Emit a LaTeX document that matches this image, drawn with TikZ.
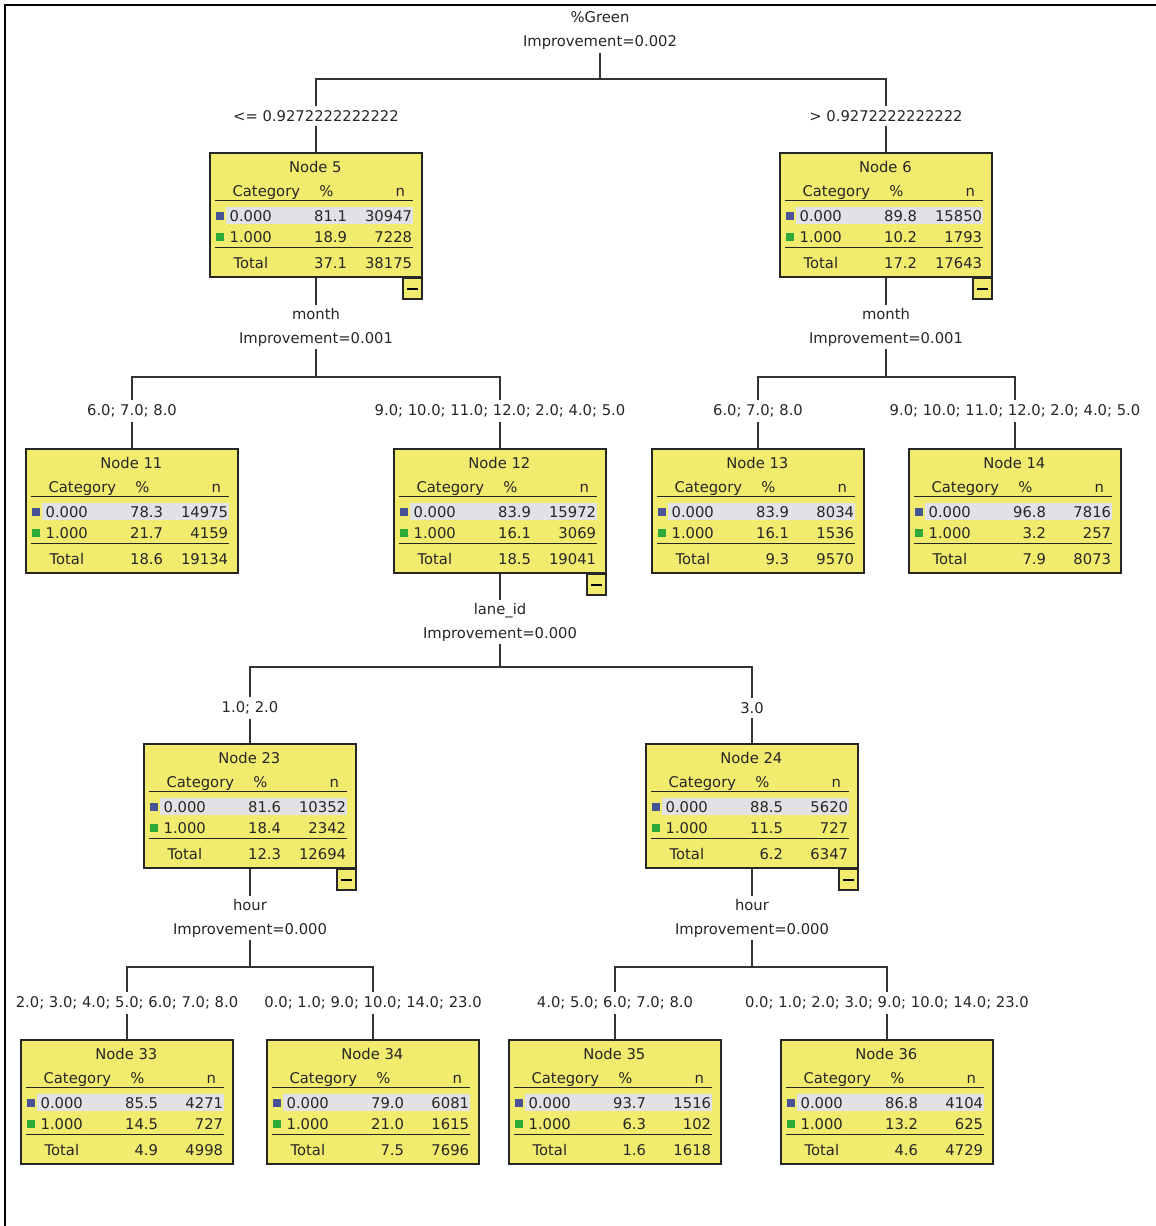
\documentclass[tikz,border=0pt]{standalone}
\usepackage{fontspec}
\setmainfont{DejaVu Sans}
\usepackage{xcolor}
\usepackage{tikz}

\definecolor{boxyellow}{RGB}{242,236,110}
\definecolor{rowgrey}{RGB}{226,226,230}
\definecolor{catblue}{RGB}{72,82,150}
\definecolor{catgreen}{RGB}{46,170,56}

\tikzset{
  nodebox/.style={draw=black!85, line width=0.9pt, fill=boxyellow, minimum width=5.3cm, minimum height=3.1cm, inner sep=0pt},
  foldbox/.style={draw=black!85, line width=0.9pt, fill=boxyellow, minimum width=0.475cm, minimum height=0.52cm, inner sep=0pt},
  cell/.style={inner sep=0pt},
  rowrule/.style={draw=black!85, line width=0.9pt},
  splitlbl/.style={align=center, inner sep=2pt},
  branchlbl/.style={inner sep=3pt},
  link/.style={draw=black!80, line width=0.9pt},
  frame/.style={draw=black, line width=1.5pt}
}

% one tree node: name, position, number, then % and n for 0.000, 1.000, Total
\newcommand{\statbox}[9]{%
  \node[nodebox] (#1) at (#2) {};
  \begin{scope}[shift={(#1.north west)}]
    \fill[rowgrey] (17,55) rectangle (204,72);
    \fill[catblue] (7,60) rectangle (15,68);
    \fill[catgreen] (7,81) rectangle (15,89);
    \draw[rowrule] (6,48) -- (204,48);
    \draw[rowrule] (6,95) -- (204,95);
    \node[cell, anchor=base] (#1-title) at (106,20) {Node #3};
    \node[cell, anchor=base west] (#1-cat) at (23,44) {Category};
    \node[cell, anchor=base] (#1-pc) at (117,44) {\%};
    \node[cell, anchor=base] (#1-n) at (191,44) {n};
    \node[cell, anchor=base west] (#1-a) at (20,69) {0.000};
    \node[cell, anchor=base east] (#1-ap) at (138,69) {#4};
    \node[cell, anchor=base east] (#1-an) at (203,69) {#5};
    \node[cell, anchor=base west] (#1-b) at (20,90) {1.000};
    \node[cell, anchor=base east] (#1-bp) at (138,90) {#6};
    \node[cell, anchor=base east] (#1-bn) at (203,90) {#7};
    \node[cell, anchor=base west] (#1-t) at (24,116) {Total};
    \node[cell, anchor=base east] (#1-tp) at (138,116) {#8};
    \node[cell, anchor=base east] (#1-tn) at (203,116) {#9};
  \end{scope}}

% collapse button under a node that has children
\newcommand{\foldbtn}[1]{%
  \node[foldbox, anchor=north east] (#1-fold) at (#1.south east) {};
  \draw[line width=1.2pt] ([xshift=-4.2pt]#1-fold.center) -- ([xshift=4.2pt]#1-fold.center);}

\begin{document}
\begin{tikzpicture}[x=0.025cm, y=-0.025cm]
  \tikzstyle{every node}=[font=\fontsize{10.5}{17}\selectfont, text=black!85]

  \useasboundingbox (0,0) rectangle (1156,1226);
  \fill[white] (0,0) rectangle (1156,1226);
  \draw[frame] (5,1226) -- (5,5) -- (1156,5);

  % Root split
  \node[splitlbl] (s0) at (600,31) {\%Green\\Improvement=0.002};
  \coordinate (j0) at (600,79);
  \node[branchlbl] (b5) at (316,116) {<= 0.9272222222222};
  \node[branchlbl] (b6) at (886,116) {> 0.9272222222222};

  % Level 1
  \statbox{n5}{316,215}{5}{81.1}{30947}{18.9}{7228}{37.1}{38175}
  \statbox{n6}{886,215}{6}{89.8}{15850}{10.2}{1793}{17.2}{17643}
  \foldbtn{n5}
  \foldbtn{n6}
  \node[splitlbl] (s5) at (316,327) {month\\Improvement=0.001};
  \node[splitlbl] (s6) at (886,327) {month\\Improvement=0.001};
  \coordinate (j5) at (316,377);
  \coordinate (j6) at (886,377);
  \node[branchlbl] (b11) at (132,411) {6.0; 7.0; 8.0};
  \node[branchlbl] (b12) at (500,411) {9.0; 10.0; 11.0; 12.0; 2.0; 4.0; 5.0};
  \node[branchlbl] (b13) at (758,411) {6.0; 7.0; 8.0};
  \node[branchlbl] (b14) at (1015,411) {9.0; 10.0; 11.0; 12.0; 2.0; 4.0; 5.0};

  % Level 2
  \statbox{n11}{132,511}{11}{78.3}{14975}{21.7}{4159}{18.6}{19134}
  \statbox{n12}{500,511}{12}{83.9}{15972}{16.1}{3069}{18.5}{19041}
  \statbox{n13}{758,511}{13}{83.9}{8034}{16.1}{1536}{9.3}{9570}
  \statbox{n14}{1015,511}{14}{96.8}{7816}{3.2}{257}{7.9}{8073}
  \foldbtn{n12}
  \node[splitlbl] (s12) at (500,622) {lane\_id\\Improvement=0.000};
  \coordinate (j12) at (500,667);
  \node[branchlbl] (b23) at (250,708) {1.0; 2.0};
  \node[branchlbl] (b24) at (752,708) {3.0};

  % Level 3
  \statbox{n23}{250,806}{23}{81.6}{10352}{18.4}{2342}{12.3}{12694}
  \statbox{n24}{752,806}{24}{88.5}{5620}{11.5}{727}{6.2}{6347}
  \foldbtn{n23}
  \foldbtn{n24}
  \node[splitlbl] (s23) at (250,918) {hour\\Improvement=0.000};
  \node[splitlbl] (s24) at (752,918) {hour\\Improvement=0.000};
  \coordinate (j23) at (250,967);
  \coordinate (j24) at (752,967);
  \node[branchlbl] (b33) at (127,1003) {2.0; 3.0; 4.0; 5.0; 6.0; 7.0; 8.0};
  \node[branchlbl] (b34) at (373,1003) {0.0; 1.0; 9.0; 10.0; 14.0; 23.0};
  \node[branchlbl] (b35) at (615,1003) {4.0; 5.0; 6.0; 7.0; 8.0};
  \node[branchlbl] (b36) at (887,1003) {0.0; 1.0; 2.0; 3.0; 9.0; 10.0; 14.0; 23.0};

  % Level 4
  \statbox{n33}{127,1102}{33}{85.5}{4271}{14.5}{727}{4.9}{4998}
  \statbox{n34}{373,1102}{34}{79.0}{6081}{21.0}{1615}{7.5}{7696}
  \statbox{n35}{615,1102}{35}{93.7}{1516}{6.3}{102}{1.6}{1618}
  \statbox{n36}{887,1102}{36}{86.8}{4104}{13.2}{625}{4.6}{4729}

  % Connectors
  \draw[link] (s0) -- (j0);
  \draw[link] (j0) -| (b5);
  \draw[link] (j0) -| (b6);
  \draw[link] (b5) -- (n5);
  \draw[link] (b6) -- (n6);
  \draw[link] (n5) -- (s5);
  \draw[link] (n6) -- (s6);
  \draw[link] (s5) -- (j5);
  \draw[link] (s6) -- (j6);
  \draw[link] (j5) -| (b11);
  \draw[link] (j5) -| (b12);
  \draw[link] (j6) -| (b13);
  \draw[link] (j6) -| (b14);
  \draw[link] (b11) -- (n11);
  \draw[link] (b12) -- (n12);
  \draw[link] (b13) -- (n13);
  \draw[link] (b14) -- (n14);
  \draw[link] (n12) -- (s12);
  \draw[link] (s12) -- (j12);
  \draw[link] (j12) -| (b23);
  \draw[link] (j12) -| (b24);
  \draw[link] (b23) -- (n23);
  \draw[link] (b24) -- (n24);
  \draw[link] (n23) -- (s23);
  \draw[link] (n24) -- (s24);
  \draw[link] (s23) -- (j23);
  \draw[link] (s24) -- (j24);
  \draw[link] (j23) -| (b33);
  \draw[link] (j23) -| (b34);
  \draw[link] (j24) -| (b35);
  \draw[link] (j24) -| (b36);
  \draw[link] (b33) -- (n33);
  \draw[link] (b34) -- (n34);
  \draw[link] (b35) -- (n35);
  \draw[link] (b36) -- (n36);
\end{tikzpicture}
\end{document}
